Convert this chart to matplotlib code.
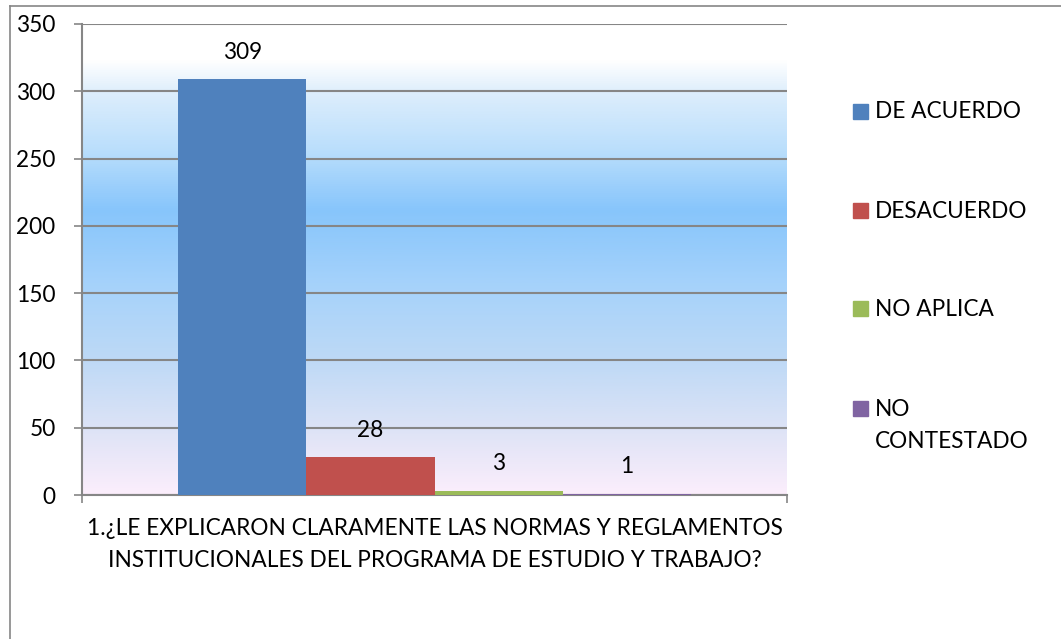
import numpy as np
import matplotlib.pyplot as plt
from matplotlib.colors import LinearSegmentedColormap
from matplotlib.patches import Rectangle
from matplotlib.lines import Line2D

# Data
question = '1.¿LE EXPLICARON CLARAMENTE LAS NORMAS Y REGLAMENTOS\nINSTITUCIONALES DEL PROGRAMA DE ESTUDIO Y TRABAJO?'
series = ['DE ACUERDO', 'DESACUERDO', 'NO APLICA', 'NO\nCONTESTADO']
values = [309, 28, 3, 1]
colors = ['#4F81BD', '#C0504D', '#9BBB59', '#8064A2']
yticks = [0, 50, 100, 150, 200, 250, 300, 350]

plt.rcParams['font.family'] = ['Lato', 'DejaVu Sans']
fs = 16.3
grid_col = '#868686'

W, H = 1061, 639
fig = plt.figure(figsize=(W / 100, H / 100), dpi=100)
ax = fig.add_axes([82 / W, 1 - 495 / H, (787 - 82) / W, (495 - 24) / H])

# gradient background of the plot area
stops = [(0.0, '#FCEEFC'), (0.14, '#DDE3F6'), (0.29, '#BDD9F6'), (0.45, '#A5D2FB'),
         (0.605, '#87C5FB'), (0.73, '#B9DEFC'), (0.856, '#DDEEFC'), (0.924, '#FFFFFF'),
         (1.0, '#FFFFFF')]
cmap = LinearSegmentedColormap.from_list('bg', stops)
grad = np.linspace(0, 1, 512).reshape(-1, 1)
ax.imshow(grad, cmap=cmap, aspect='auto', extent=[0, 1, 0, 1], origin='lower',
          transform=ax.transAxes, zorder=0)

# bars
w = 0.1816
for i, (name, v, c) in enumerate(zip(series, values, colors)):
    xc = (i - 1.5) * w
    ax.bar(xc, v, width=w, color=c, zorder=3)
    ax.annotate(str(v), (xc, v), xytext=(0, 27), textcoords='offset pixels',
                ha='center', va='center', fontsize=fs, zorder=4)

ax.set_xlim(-0.5, 0.5)
ax.set_ylim(0, 350)
ax.set_yticks(yticks)
ax.set_yticklabels([str(t) for t in yticks], fontsize=fs)
ax.yaxis.grid(True, color=grid_col, linewidth=1.5, zorder=1)
ax.set_axisbelow(True)
ax.set_xticks([0])
ax.set_xticklabels([question], fontsize=fs, linespacing=1.68)
ax.set_xticks([-0.5, 0.5], minor=True)
ax.tick_params(axis='x', which='major', length=0, pad=16.5)
ax.tick_params(axis='x', which='minor', length=6, width=1.2, color=grid_col)
ax.tick_params(axis='y', length=6, width=1.2, color=grid_col, pad=13)

for s in ['top', 'right']:
    ax.spines[s].set_visible(False)
for s in ['left', 'bottom']:
    ax.spines[s].set_color(grid_col)
    ax.spines[s].set_linewidth(1.5)

# legend drawn by hand
leg_y = [111, 210, 309, 408]
for name, c, y in zip(series, colors, leg_y):
    fig.patches.append(Rectangle((853 / W, 1 - (y + 7.5) / H), 15 / W, 15 / H,
                                 transform=fig.transFigure, color=c))
    for k, line in enumerate(name.split('\n')):
        fig.text(875 / W, 1 - (y + 1 + 32 * k) / H, line, fontsize=fs,
                 ha='left', va='center')

# chart border (top and left only visible)
fig.add_artist(Line2D([10 / W, 1], [1 - 6 / H, 1 - 6 / H], transform=fig.transFigure,
                      color=grid_col, linewidth=1.2))
fig.add_artist(Line2D([10 / W, 10 / W], [0, 1 - 6 / H], transform=fig.transFigure,
                      color=grid_col, linewidth=1.2))

fig.savefig('out.png', dpi=100)
